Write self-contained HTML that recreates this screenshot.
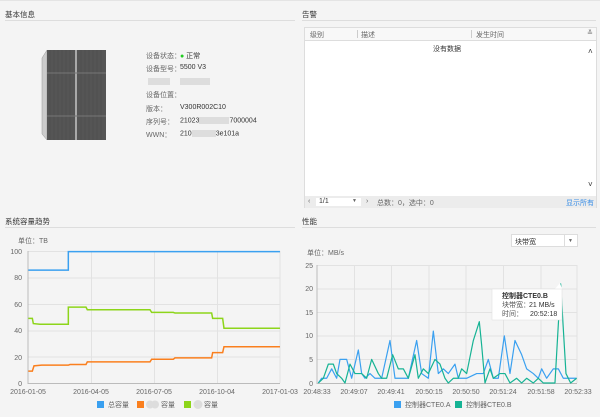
<!DOCTYPE html>
<html><head><meta charset="utf-8"><style>
body{margin:0;width:600px;height:417px;background:#f4f4f4;font-family:"Liberation Sans","Noto Sans CJK SC",sans-serif;font-size:7px;color:#333;position:relative;overflow:hidden}
.a{position:absolute;white-space:nowrap}
.h{font-size:7.5px;color:#333}
.line{position:absolute;height:1px;background:#ddd}
.lbl{color:#666}
</style></head><body>
<div class="line" style="left:0;top:0;width:600px;background:#e4e4e4"></div>
<div class="a h" style="left:5px;top:9px">基本信息</div>
<div class="line" style="left:5px;top:20px;width:290px"></div>
<div class="a h" style="left:302px;top:9px">告警</div>
<div class="line" style="left:302px;top:20px;width:294px"></div>

<!-- cabinet -->
<svg class="a" style="left:40px;top:48px" width="70" height="95">
<polygon points="2,10 7,2 7,92 2,86" fill="#ccc" stroke="#999" stroke-width=".5"/>
<rect x="7" y="2" width="28" height="90" fill="#555"/>
<rect x="37" y="2" width="29" height="90" fill="#555"/>
<polygon points="35,2 37,2 37,92 35,92" fill="#aaa"/>
<g stroke="#4a4a4a" stroke-width=".5">
<line x1="10" y1="2" x2="10" y2="92"/><line x1="14" y1="2" x2="14" y2="92"/><line x1="18" y1="2" x2="18" y2="92"/><line x1="22" y1="2" x2="22" y2="92"/><line x1="26" y1="2" x2="26" y2="92"/><line x1="30" y1="2" x2="30" y2="92"/>
<line x1="41" y1="2" x2="41" y2="92"/><line x1="45" y1="2" x2="45" y2="92"/><line x1="49" y1="2" x2="49" y2="92"/><line x1="53" y1="2" x2="53" y2="92"/><line x1="57" y1="2" x2="57" y2="92"/><line x1="61" y1="2" x2="61" y2="92"/></g>
<g stroke="#777" stroke-width="1"><line x1="7" y1="25" x2="66" y2="25"/><line x1="7" y1="68" x2="66" y2="68"/></g>
</svg>
<div class="a lbl" style="left:146px;top:51px">设备状态：</div><div class="a" style="left:180px;top:51px"><span style="color:#2c2">●</span> 正常</div>
<div class="a lbl" style="left:146px;top:64px">设备型号：</div><div class="a" style="left:180px;top:64px">5500 V3</div>
<div class="a" style="left:148px;top:78px;width:22px;height:7px;background:#ddd"></div><div class="a" style="left:180px;top:78px;width:30px;height:7px;background:#ddd"></div>
<div class="a lbl" style="left:146px;top:90px">设备位置：</div>
<div class="a lbl" style="left:146px;top:104px">版本：</div><div class="a" style="left:180px;top:104px">V300R002C10</div>
<div class="a lbl" style="left:146px;top:117px">序列号：</div><div class="a" style="left:180px;top:117px">21023<span style="display:inline-block;width:30px;height:7px;background:#ddd;vertical-align:middle"></span>7000004</div>
<div class="a lbl" style="left:146px;top:130px">WWN：</div><div class="a" style="left:180px;top:130px">210<span style="display:inline-block;width:24px;height:7px;background:#ddd;vertical-align:middle"></span>3e101a</div>

<!-- alarm table -->
<div class="a" style="left:304px;top:27px;width:293px;height:181px;background:#fff;border:1px solid #ddd;box-sizing:border-box"></div>
<div class="a" style="left:305px;top:28px;width:291px;height:12px;background:#f8f8f8;border-bottom:1px solid #ddd"></div>
<div class="a lbl" style="left:310px;top:30px">级别</div>
<div class="a" style="left:357px;top:30px;width:1px;height:8px;background:#ccc"></div>
<div class="a lbl" style="left:361px;top:30px">描述</div>
<div class="a" style="left:471px;top:30px;width:1px;height:8px;background:#ccc"></div>
<div class="a lbl" style="left:476px;top:30px">发生时间</div>
<div class="a lbl" style="left:587px;top:29px">≚</div>
<div class="a" style="left:433px;top:44px">没有数据</div>
<div class="a" style="left:588px;top:47px;font-size:8px">˄</div>
<div class="a" style="left:588px;top:180px;font-size:8px">˅</div>
<div class="a" style="left:305px;top:196px;width:291px;height:12px;background:#ececec"></div>
<div class="a" style="left:316px;top:198px;width:45px;height:8px;background:#fff"></div>
<div class="a" style="left:319px;top:198px">1/1</div><div class="a lbl" style="left:352px;top:198px;font-size:5px">▼</div>
<div class="a lbl" style="left:308px;top:198px">‹</div><div class="a lbl" style="left:366px;top:198px">›</div>
<div class="a lbl" style="left:377px;top:198px">总数：0，选中：0</div>
<div class="a" style="left:566px;top:198px;color:#3a8ee6">显示所有</div>

<!-- lower headers -->
<div class="a h" style="left:5px;top:216px">系统容量趋势</div>
<div class="line" style="left:5px;top:227px;width:290px"></div>
<div class="a h" style="left:302px;top:216px">性能</div>
<div class="line" style="left:302px;top:227px;width:294px"></div>

<!-- left chart -->
<div class="a lbl" style="left:18px;top:236px">单位：TB</div>
<svg class="a" style="left:0;top:0" width="300" height="417">
<g stroke="#e2e2e2" stroke-width="1">
<line x1="28" y1="251.5" x2="280" y2="251.5"/><line x1="28" y1="278" x2="280" y2="278"/><line x1="28" y1="304.5" x2="280" y2="304.5"/><line x1="28" y1="331" x2="280" y2="331"/><line x1="28" y1="357" x2="280" y2="357"/>
<line x1="91.5" y1="251" x2="91.5" y2="383"/><line x1="154.5" y1="251" x2="154.5" y2="383"/><line x1="217.5" y1="251" x2="217.5" y2="383"/><line x1="280" y1="251" x2="280" y2="383"/></g>
<line x1="28" y1="251" x2="28" y2="384" stroke="#bbb"/><line x1="28" y1="383.5" x2="280" y2="383.5" stroke="#bbb"/>
<g fill="#666" font-size="7" text-anchor="end"><text x="22" y="254">100</text><text x="22" y="280">80</text><text x="22" y="307">60</text><text x="22" y="333">40</text><text x="22" y="360">20</text><text x="22" y="386">0</text></g>
<g fill="#666" font-size="7" text-anchor="middle"><text x="28" y="394">2016-01-05</text><text x="91" y="394">2016-04-05</text><text x="154" y="394">2016-07-05</text><text x="217" y="394">2016-10-04</text><text x="280" y="394">2017-01-03</text></g>
<g transform="translate(0,383) scale(0.3333,-1.32)" fill="none" stroke-width="1.5">
<polyline vector-effect="non-scaling-stroke" stroke="#3aa0f0" points="85,85.5 205,85.5 205,99.5 840,99.5"/>
<polyline vector-effect="non-scaling-stroke" stroke="#8dd51a" points="85,49 97,49 100,45 120,44.5 205,44.5 205,57.5 258,57.5 262,55.5 450,55.5 455,53.5 520,53.5 525,53 635,53 638,49 668,49 672,41.5 840,41.5"/>
<polyline vector-effect="non-scaling-stroke" stroke="#fa7f1e" points="85,9 97,9 102,13 125,13.5 205,13.5 210,14 258,14 262,16 450,16 455,18 520,18 525,19 635,19 638,23 668,23 672,27.5 840,27.5"/>
</g>
<rect x="97" y="401" width="7" height="7" fill="#3aa0f0"/><text x="108" y="407" font-size="7" fill="#666">总容量</text>
<rect x="137" y="401" width="7" height="7" fill="#fa7f1e"/><circle cx="150" cy="404.5" r="4" fill="#ddd"/><circle cx="155" cy="404.5" r="4" fill="#ddd"/><text x="161" y="407" font-size="7" fill="#666">容量</text>
<rect x="184" y="401" width="7" height="7" fill="#8dd51a"/><circle cx="198" cy="404.5" r="4.5" fill="#ddd"/><text x="204" y="407" font-size="7" fill="#666">容量</text>
</svg>

<!-- right chart -->
<div class="a" style="left:511px;top:234px;width:67px;height:13px;background:#fff;border:1px solid #ddd;box-sizing:border-box"></div>
<div class="a" style="left:515px;top:237px">块带宽</div>
<div class="a" style="left:564px;top:235px;width:1px;height:11px;background:#ddd"></div>
<div class="a lbl" style="left:568px;top:238px;font-size:5px">▼</div>
<div class="a lbl" style="left:307px;top:248px">单位：MB/s</div>
<svg class="a" style="left:0;top:0" width="600" height="417">
<g stroke="#e2e2e2" stroke-width="1">
<line x1="317" y1="265.5" x2="577" y2="265.5"/><line x1="317" y1="289" x2="577" y2="289"/><line x1="317" y1="312.5" x2="577" y2="312.5"/><line x1="317" y1="336" x2="577" y2="336"/><line x1="317" y1="359.5" x2="577" y2="359.5"/>
<line x1="354.5" y1="265" x2="354.5" y2="383"/><line x1="391.5" y1="265" x2="391.5" y2="383"/><line x1="429" y1="265" x2="429" y2="383"/><line x1="466" y1="265" x2="466" y2="383"/><line x1="503.5" y1="265" x2="503.5" y2="383"/><line x1="541" y1="265" x2="541" y2="383"/><line x1="577" y1="265" x2="577" y2="383"/></g>
<line x1="317" y1="265" x2="317" y2="384" stroke="#bbb"/><line x1="317" y1="383.5" x2="577" y2="383.5" stroke="#bbb"/>
<g fill="#666" font-size="7" text-anchor="end"><text x="313" y="268">25</text><text x="313" y="291">20</text><text x="313" y="315">15</text><text x="313" y="338">10</text><text x="313" y="362">5</text><text x="313" y="386">0</text></g>
<g fill="#666" font-size="7" text-anchor="middle"><text x="317" y="394">20:48:33</text><text x="354" y="394">20:49:07</text><text x="391" y="394">20:49:41</text><text x="429" y="394">20:50:15</text><text x="466" y="394">20:50:50</text><text x="503" y="394">20:51:24</text><text x="541" y="394">20:51:58</text><text x="578" y="394">20:52:33</text></g>
<g transform="translate(300,383) scale(0.3333,-4.72)" fill="none" stroke-width="1.2" stroke-linejoin="round">
<polyline vector-effect="non-scaling-stroke" stroke="#3aa0f0" points="55,0 65,1 80,1 95,3 110,1 120,5 140,5 155,1 175,7 185,2 195,1 210,2 225,1 245,1 270,9 285,1 300,1 325,1 350,9 365,2 385,1 400,11 415,2 430,3 445,2 465,4 475,1 500,1 530,2 550,2 565,5 580,1 595,1 613,10 630,2 645,9 665,6 680,3 700,2 715,1 725,3 740,1 760,3 775,3 790,1 810,1 830,1"/>
<polyline vector-effect="non-scaling-stroke" stroke="#16b394" points="55,0 70,1 85,4 100,4 110,2 125,1 135,0 150,4 165,2 185,2 200,1 215,5 235,2 245,1 260,1 278,6 295,3 310,3 325,1 345,6 355,1 370,3 385,2 405,5 420,4 435,1 445,0 460,1 475,1 485,3 500,2 520,9 538,13 545,8 555,0 570,3 580,1 600,2 615,2 630,0 650,1 665,0 680,1 700,0 715,1 730,0 765,0 782,21 798,2 812,0 830,1"/>
</g>
<polygon points="555,289 560,283 562,289" fill="#fff"/>
<rect x="492" y="289" width="70" height="31" fill="#fff" stroke="#ddd" stroke-width=".5"/>
<text x="502" y="298" font-size="7" fill="#333" font-weight="bold">控制器CTE0.B</text>
<text x="502" y="307" font-size="7" fill="#555">块带宽：</text><text x="529" y="307" font-size="7" fill="#333">21 MB/s</text>
<text x="502" y="316" font-size="7" fill="#555">时间：</text><text x="530" y="316" font-size="7" fill="#333">20:52:18</text>
<rect x="394" y="401" width="7" height="7" fill="#3aa0f0"/><text x="405" y="407" font-size="7" fill="#666">控制器CTE0.A</text>
<rect x="455" y="401" width="7" height="7" fill="#16b394"/><text x="466" y="407" font-size="7" fill="#666">控制器CTE0.B</text>
</svg>
</body></html>
